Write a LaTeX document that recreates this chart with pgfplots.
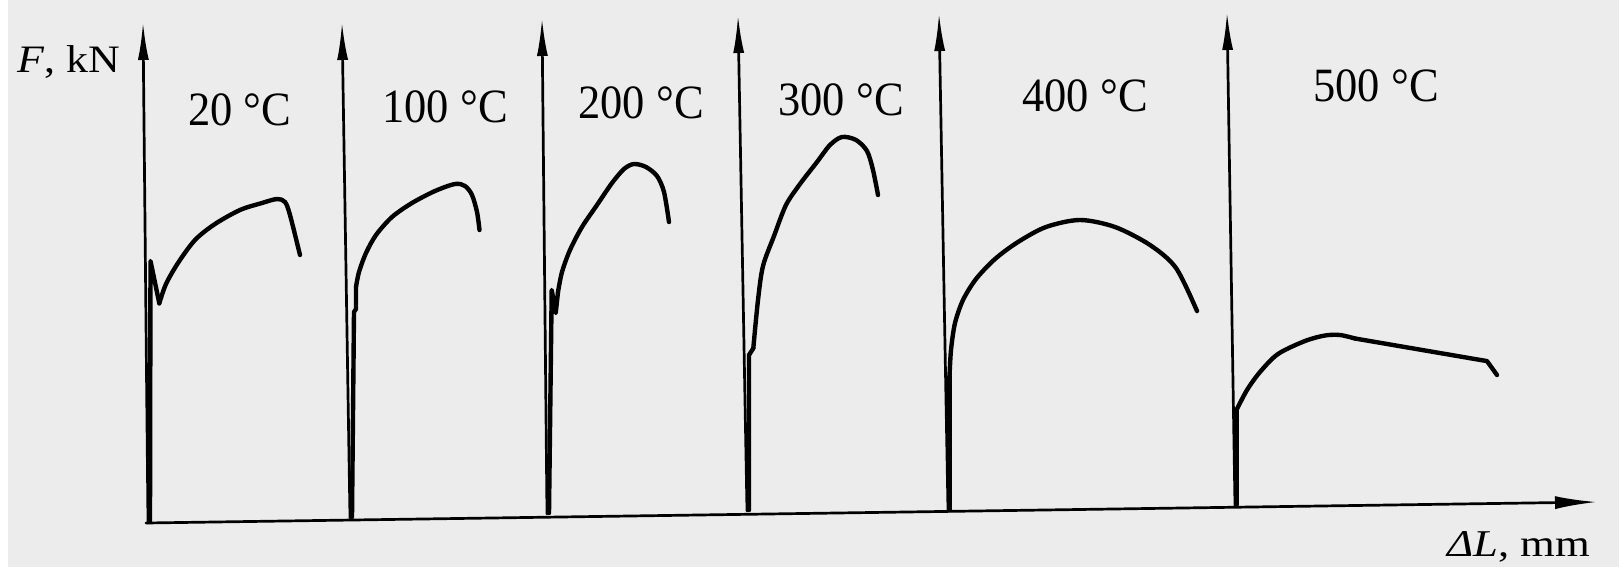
\documentclass[border=0pt]{standalone}
\usepackage{fontspec}
\setmainfont{Liberation Serif}
\usepackage{graphicx}
\usepackage{pgfplots}
\pgfplotsset{compat=1.18}
\usetikzlibrary{arrows.meta}
\definecolor{bg}{RGB}{236,236,236}
\newcommand{\lab}[1]{\fontsize{24}{24}\selectfont\scalebox{0.93}[1]{#1}}
\begin{document}
\begin{tikzpicture}
\begin{axis}[
  width=809.5bp, height=283.5bp, scale only axis,
  xmin=0, xmax=1619, ymin=0, ymax=567, y dir=reverse,
  axis lines=none, clip=false,
  every axis plot/.append style={line join=round, line cap=round},
  ax/.style={black, line width=1.35bp, -{Latex[length=19bp,width=5.5bp]}},
  cv/.style={black, line width=2.2bp},
  sm/.style={black, line width=2.2bp, smooth, tension=0.5},
]
\fill[bg] (axis cs:0,0) rectangle (axis cs:1619,567);
\fill[white] (axis cs:0,0) rectangle (axis cs:8,567);
% vertical axes
\addplot[ax] coordinates {(148,523) (143,22)};
\addplot[ax] coordinates {(350,518) (342,22)};
\addplot[ax] coordinates {(547,514) (542,18)};
\addplot[ax] coordinates {(747,511) (738,15)};
\addplot[ax] coordinates {(948,511) (939,13)};
\addplot[ax] coordinates {(1235,506) (1227,12)};
% horizontal axis
\addplot[black, line width=1.35bp, -{Latex[length=21bp,width=6.5bp]}] coordinates {(146,523) (1597,502)};
% 20 C
\addplot[cv] coordinates {(150,522) (150.5,261) (159.3,303.3)};
\addplot[sm] coordinates {(159.3,303.3) (166,284) (178,263) (195,240) (215,224) (240,210) (262,203) (277,199) (285,202) (290,215) (300,255)};
% 100 C
\addplot[cv] coordinates {(352,517) (354,312) (356,309) (356,287)};
\addplot[sm] coordinates {(356,287) (359,272) (366,253) (376,235) (392,217) (412,203) (435,191) (455,184) (465,186) (472,195) (477,212) (479.5,230)};
% 200 C
\addplot[cv] coordinates {(549,513) (551.7,290) (555.7,313) (558,292)};
\addplot[sm] coordinates {(558,292) (562,272) (570,250) (582,227) (597,205) (612,183) (624,169) (634,164) (646,167) (657,176) (664,192) (669,222)};
% 300 C
\addplot[cv] coordinates {(749,510) (749,355) (753.3,348.3)};
\addplot[sm] coordinates {(753.3,348.3) (758,300) (763,266) (774,236) (786,205) (800,184) (817,162) (830,145) (842,137) (856,140) (867,151) (873,170) (878,195)};
% 400 C
\addplot[cv] coordinates {(949.5,510) (949.5,376.7)};
\addplot[sm] coordinates {(949.5,376.7) (951,350) (955,323) (963,300) (976,279) (995,259) (1018,242) (1046,227) (1080,220) (1115,227) (1150,245) (1176,268) (1197,311)};
% 500 C
\addplot[cv] coordinates {(1236.5,505) (1236.5,410)};
\addplot[sm] coordinates {(1236.5,410) (1247,390) (1260,372) (1278,354) (1305,341) (1325,335.5) (1340,335) (1355,338.5)};
\addplot[cv] coordinates {(1355,338.5) (1487,361.1) (1497,375)};
% labels
\node[anchor=base west, inner sep=0] at (axis cs:17,72) {\fontsize{19.5}{19.5}\selectfont\scalebox{1.13}[1]{\textit{F}, kN}};
\node[anchor=base west, inner sep=0] at (axis cs:1447,556) {\fontsize{19}{19}\selectfont\scalebox{1.18}[1]{\textit{ΔL}, mm}};
\node[anchor=base west, inner sep=0] at (axis cs:188,125) {\lab{20 °C}};
\node[anchor=base west, inner sep=0] at (axis cs:382,122) {\lab{100 °C}};
\node[anchor=base west, inner sep=0] at (axis cs:578,118) {\lab{200 °C}};
\node[anchor=base west, inner sep=0] at (axis cs:778,115) {\lab{300 °C}};
\node[anchor=base west, inner sep=0] at (axis cs:1022,111) {\lab{400 °C}};
\node[anchor=base west, inner sep=0] at (axis cs:1313,101) {\lab{500 °C}};
\end{axis}
\end{tikzpicture}
\end{document}
